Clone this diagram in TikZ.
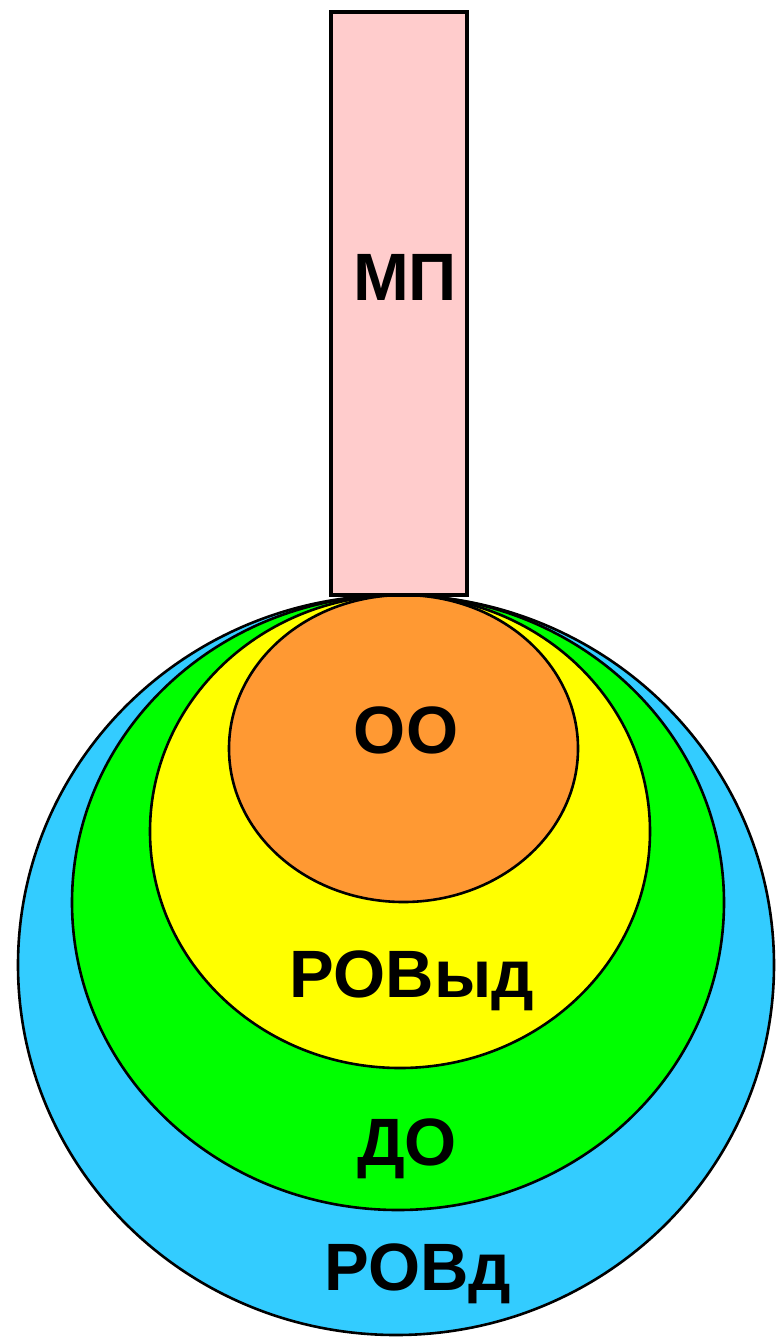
\documentclass[tikz,border=0pt]{standalone}
\usepackage{fontspec}
\setmainfont{Liberation Sans}
\definecolor{pinkfill}{HTML}{FFCCCC}
\definecolor{orangefill}{HTML}{FF9933}
\definecolor{yellowfill}{HTML}{FFFF00}
\definecolor{greenfill}{HTML}{00FF00}
\definecolor{bluefill}{HTML}{33CCFF}
\tikzset{
  zone/.style={draw=black, line width=2.6pt},
  lbl/.style={anchor=base, inner sep=0pt, font=\fontsize{67}{70}\selectfont\bfseries, text=black}
}
\begin{document}
\begin{tikzpicture}[x=1pt, y=-1pt]
\useasboundingbox (0,0) rectangle (778,1339);
\fill[white] (0,0) rectangle (778,1339);
% nested zones
\draw[zone, fill=bluefill] (396,965) ellipse [x radius=378, y radius=370];
\draw[zone, fill=greenfill] (398,902.5) ellipse [x radius=326, y radius=307.5];
\draw[zone, fill=yellowfill] (400,831.5) ellipse [x radius=250, y radius=236.5];
\draw[zone, fill=orangefill] (403.5,748.5) ellipse [x radius=174.5, y radius=153.5];
% bar
\draw[draw=black, line width=3.5pt, fill=pinkfill] (331,12) rectangle (467,595);
% labels
\node[lbl] (mp) at (405,300) {МП};
\node[lbl] (oo) at (406,753) {ОО};
\node[lbl] (rovyd) at (412,997) {РОВыд};
\node[lbl] (do) at (407,1165) {ДО};
\node[lbl] (rovd) at (418,1290) {РОВд};
\end{tikzpicture}
\end{document}
